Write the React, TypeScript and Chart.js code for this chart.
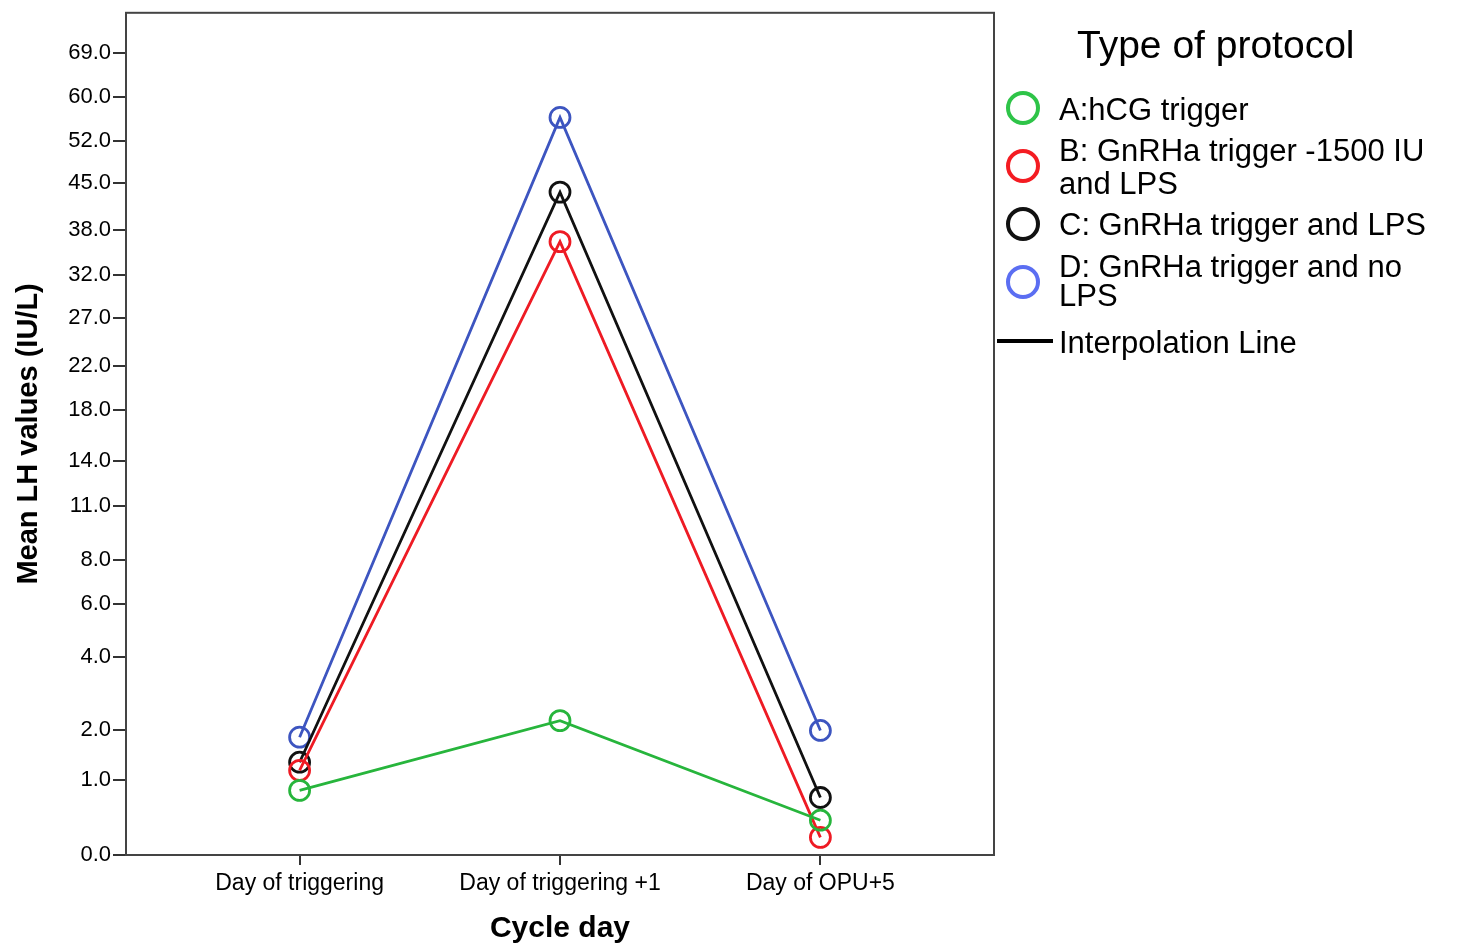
import React, { useEffect, useRef } from "react";
import { Chart, registerables, LinearScale } from "chart.js";

Chart.register(...registerables);

// ---- data ----
const CATEGORIES = ["Day of triggering", "Day of triggering +1", "Day of OPU+5"];
const SERIES_A_HCG = [0.83, 2.21, 0.4];
const SERIES_B_GNRHA_1500 = [1.17, 36.4, 0.19];
const SERIES_C_GNRHA_LPS = [1.32, 43.6, 0.72];
const SERIES_D_GNRHA_NO_LPS = [1.83, 56.2, 1.98];
const Y_TICKS = [0, 1, 2, 4, 6, 8, 11, 14, 18, 22, 27, 32, 38, 45, 52, 60, 69];
const LEGEND_TITLE = "Type of protocol";
const LEGEND_LABELS = [
  ["A:hCG trigger"],
  ["B: GnRHa trigger -1500 IU", "and LPS"],
  ["C: GnRHa trigger and LPS"],
  ["D: GnRHa trigger and no", "LPS"],
];
const INTERP_LABEL = "Interpolation Line";
const X_TITLE = "Cycle day";
const Y_TITLE = "Mean LH values (IU/L)";

// ---- scale transform (power scale with shift, as in the source axis) ----
const POW = 0.3;
const SHIFT = 0.9;
const tf = (v: number) => Math.pow(Math.max(v, 0) + SHIFT, POW) - Math.pow(SHIFT, POW);
const itf = (t: number) => Math.pow(t + Math.pow(SHIFT, POW), 1 / POW) - SHIFT;

class PowerScale extends LinearScale {
  static id = "power";
  static defaults = {};
  buildTicks() {
    return Y_TICKS.map((v) => ({ value: v }));
  }
  getPixelForValue(value: number) {
    const a = tf(this.min as number);
    const b = tf(this.max as number);
    return this.getPixelForDecimal((tf(value) - a) / (b - a));
  }
  getValueForPixel(pixel: number) {
    const a = tf(this.min as number);
    const b = tf(this.max as number);
    return itf(a + this.getDecimalForPixel(pixel) * (b - a));
  }
}
Chart.register(PowerScale as any);

const FONT = "'Liberation Sans', Arial, sans-serif";
const COLORS = ["#27b53c", "#ee1b24", "#111111", "#3d55c0"];
const LEGEND_COLORS = ["#2ec448", "#f41c22", "#111111", "#5b6ef2"];

const framePlugin = {
  id: "frame",
  afterDraw(chart: any) {
    const { ctx, chartArea } = chart;
    ctx.save();
    ctx.strokeStyle = "#444";
    ctx.lineWidth = 2;
    ctx.strokeRect(chartArea.left, chartArea.top, chartArea.right - chartArea.left, chartArea.bottom - chartArea.top);

    // legend
    ctx.fillStyle = "#000";
    ctx.textBaseline = "middle";
    ctx.textAlign = "left";
    ctx.font = `39px ${FONT}`;
    ctx.fillText(LEGEND_TITLE, 1077, 47);
    const circleY = [108, 166, 224, 282];
    const textY = [[111], [152, 185], [226], [268, 297]];
    ctx.font = `31px ${FONT}`;
    LEGEND_LABELS.forEach((lines, i) => {
      ctx.beginPath();
      ctx.strokeStyle = LEGEND_COLORS[i];
      ctx.lineWidth = 4;
      ctx.arc(1023, circleY[i], 15, 0, Math.PI * 2);
      ctx.stroke();
      ctx.fillStyle = "#000";
      lines.forEach((ln, j) => ctx.fillText(ln, 1059, textY[i][j]));
    });
    ctx.beginPath();
    ctx.strokeStyle = "#000";
    ctx.lineWidth = 4;
    ctx.moveTo(997, 341);
    ctx.lineTo(1053, 341);
    ctx.stroke();
    ctx.fillText(INTERP_LABEL, 1059, 344);
    ctx.restore();
  },
};

export default function App() {
  const ref = useRef<HTMLCanvasElement>(null);
  useEffect(() => {
    if (!ref.current) return;
    const series = [SERIES_A_HCG, SERIES_B_GNRHA_1500, SERIES_C_GNRHA_LPS, SERIES_D_GNRHA_NO_LPS];
    const chart = new Chart(ref.current, {
      type: "line",
      data: {
        datasets: series.map((s, i) => ({
          label: LEGEND_LABELS[i].join(" "),
          data: s.map((v, j) => ({ x: j, y: v })),
          borderColor: COLORS[i],
          backgroundColor: "rgba(0,0,0,0)",
          pointBorderColor: COLORS[i],
          pointBackgroundColor: "rgba(0,0,0,0)",
          pointRadius: 10,
          pointBorderWidth: 2.8,
          borderWidth: 2.8,
          tension: 0,
        })),
      },
      options: {
        animation: false,
        responsive: false,
        maintainAspectRatio: false,
        layout: { padding: { top: 10, right: 466, bottom: 0, left: 0 } },
        plugins: { legend: { display: false }, tooltip: { enabled: false } },
        scales: {
          x: {
            type: "linear",
            min: -2 / 3,
            max: 8 / 3,
            afterBuildTicks: (scale: any) => {
              scale.ticks = CATEGORIES.map((_, i) => ({ value: i }));
            },
            afterFit: (scale: any) => {
              scale.height = 94;
              scale.paddingLeft = 0;
              scale.paddingRight = 0;
            },
            grid: { display: true, drawOnChartArea: false, drawTicks: true, tickLength: 10, color: "#333", lineWidth: 2 },
            border: { display: true, color: "#444", width: 2 },
            ticks: {
              color: "#000",
              font: { family: FONT, size: 23 },
              padding: 5,
              maxRotation: 0,
              autoSkip: false,
              callback: (v: any) => CATEGORIES[Math.round(Number(v))] ?? "",
            },
            title: {
              display: true,
              text: X_TITLE,
              color: "#000",
              font: { family: FONT, size: 30, weight: "bold" },
              padding: { top: 0, bottom: 2 },
            },
          },
          y: {
            type: "power" as any,
            min: 0,
            max: 77.8,
            afterFit: (scale: any) => {
              scale.width = 126;
              scale.paddingTop = 0;
              scale.paddingBottom = 0;
            },
            grid: { display: true, drawOnChartArea: false, drawTicks: true, tickLength: 13, color: "#333", lineWidth: 2 },
            border: { display: true, color: "#444", width: 2 },
            ticks: {
              color: "#000",
              font: { family: FONT, size: 22 },
              padding: 2,
              autoSkip: false,
              callback: (v: any) => Number(v).toFixed(1),
            },
            title: {
              display: true,
              text: Y_TITLE,
              color: "#000",
              font: { family: FONT, size: 29, weight: "bold" },
              padding: { top: 12, bottom: 0 },
            },
          },
        },
      } as any,
      plugins: [framePlugin],
    });
    return () => chart.destroy();
  }, []);
  return (
    <div style={{ position: "absolute", left: 0, top: 0, width: 1460, height: 949, background: "#fff" }}>
      <canvas ref={ref} width={1460} height={949} style={{ width: 1460, height: 949 }} />
    </div>
  );
}
